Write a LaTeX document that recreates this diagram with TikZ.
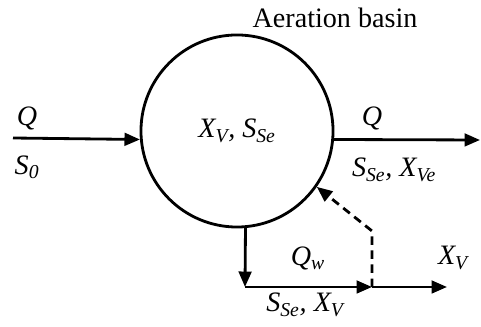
\documentclass[tikz,border=0pt]{standalone}
\usepackage{fontspec}
\setmainfont{Liberation Serif}
\usetikzlibrary{arrows.meta}
\newcommand{\idx}[1]{\textsubscript{#1}}
\begin{document}
\begin{tikzpicture}[x=0.025cm,y=-0.025cm]
    \tikzset{basin/.style = {shape = circle,draw=black,line width=2pt,minimum size = 4.8cm,inner sep = 0pt}, flow/.style = {line width=2pt,-{Triangle[length=11pt,width=9pt]}}, label/.style = {inner sep=0pt,font=\itshape\fontsize{20}{24}\selectfont}}
    \useasboundingbox (0,0) rectangle (481,327);
     \node[basin,label] (B) at (237,131) {X\idx{V}, S\idx{Se}};
     \node[inner sep=0pt,font=\fontsize{20}{24}\selectfont] (T) at (335,18) {Aeration basin};
     \coordinate (in) at (13,138);
     \coordinate (out) at (480,140);
     \coordinate (corner) at (245,287);
     \coordinate (split) at (372,287);
     \coordinate (end) at (447,287);
     \coordinate (bend) at (372,231);
     \node[label] (Qin) at (27,118) {Q};
     \node[label] (S0) at (27,167) {S\idx{0}};
     \node[label] (Qout) at (372,118) {Q};
     \node[label] (Sout) at (394,170) {S\idx{Se}, X\idx{Ve}};
     \node[label] (Qw) at (308,258) {Q\idx{w}};
     \node[label] (XV) at (453,258) {X\idx{V}};
     \node[label] (Sw) at (305,305) {S\idx{Se}, X\idx{V}};

     \draw[flow](in) --(B.185);
     \draw[flow](B.-5) --(out);
     \draw[flow](B.275) --(corner);
     \draw[flow](corner) --(split);
     \draw[flow](split) --(end);
     \draw[flow,dash pattern=on 6pt off 4pt](split) --(bend) --(B.-35);
\end{tikzpicture}
\end{document}
